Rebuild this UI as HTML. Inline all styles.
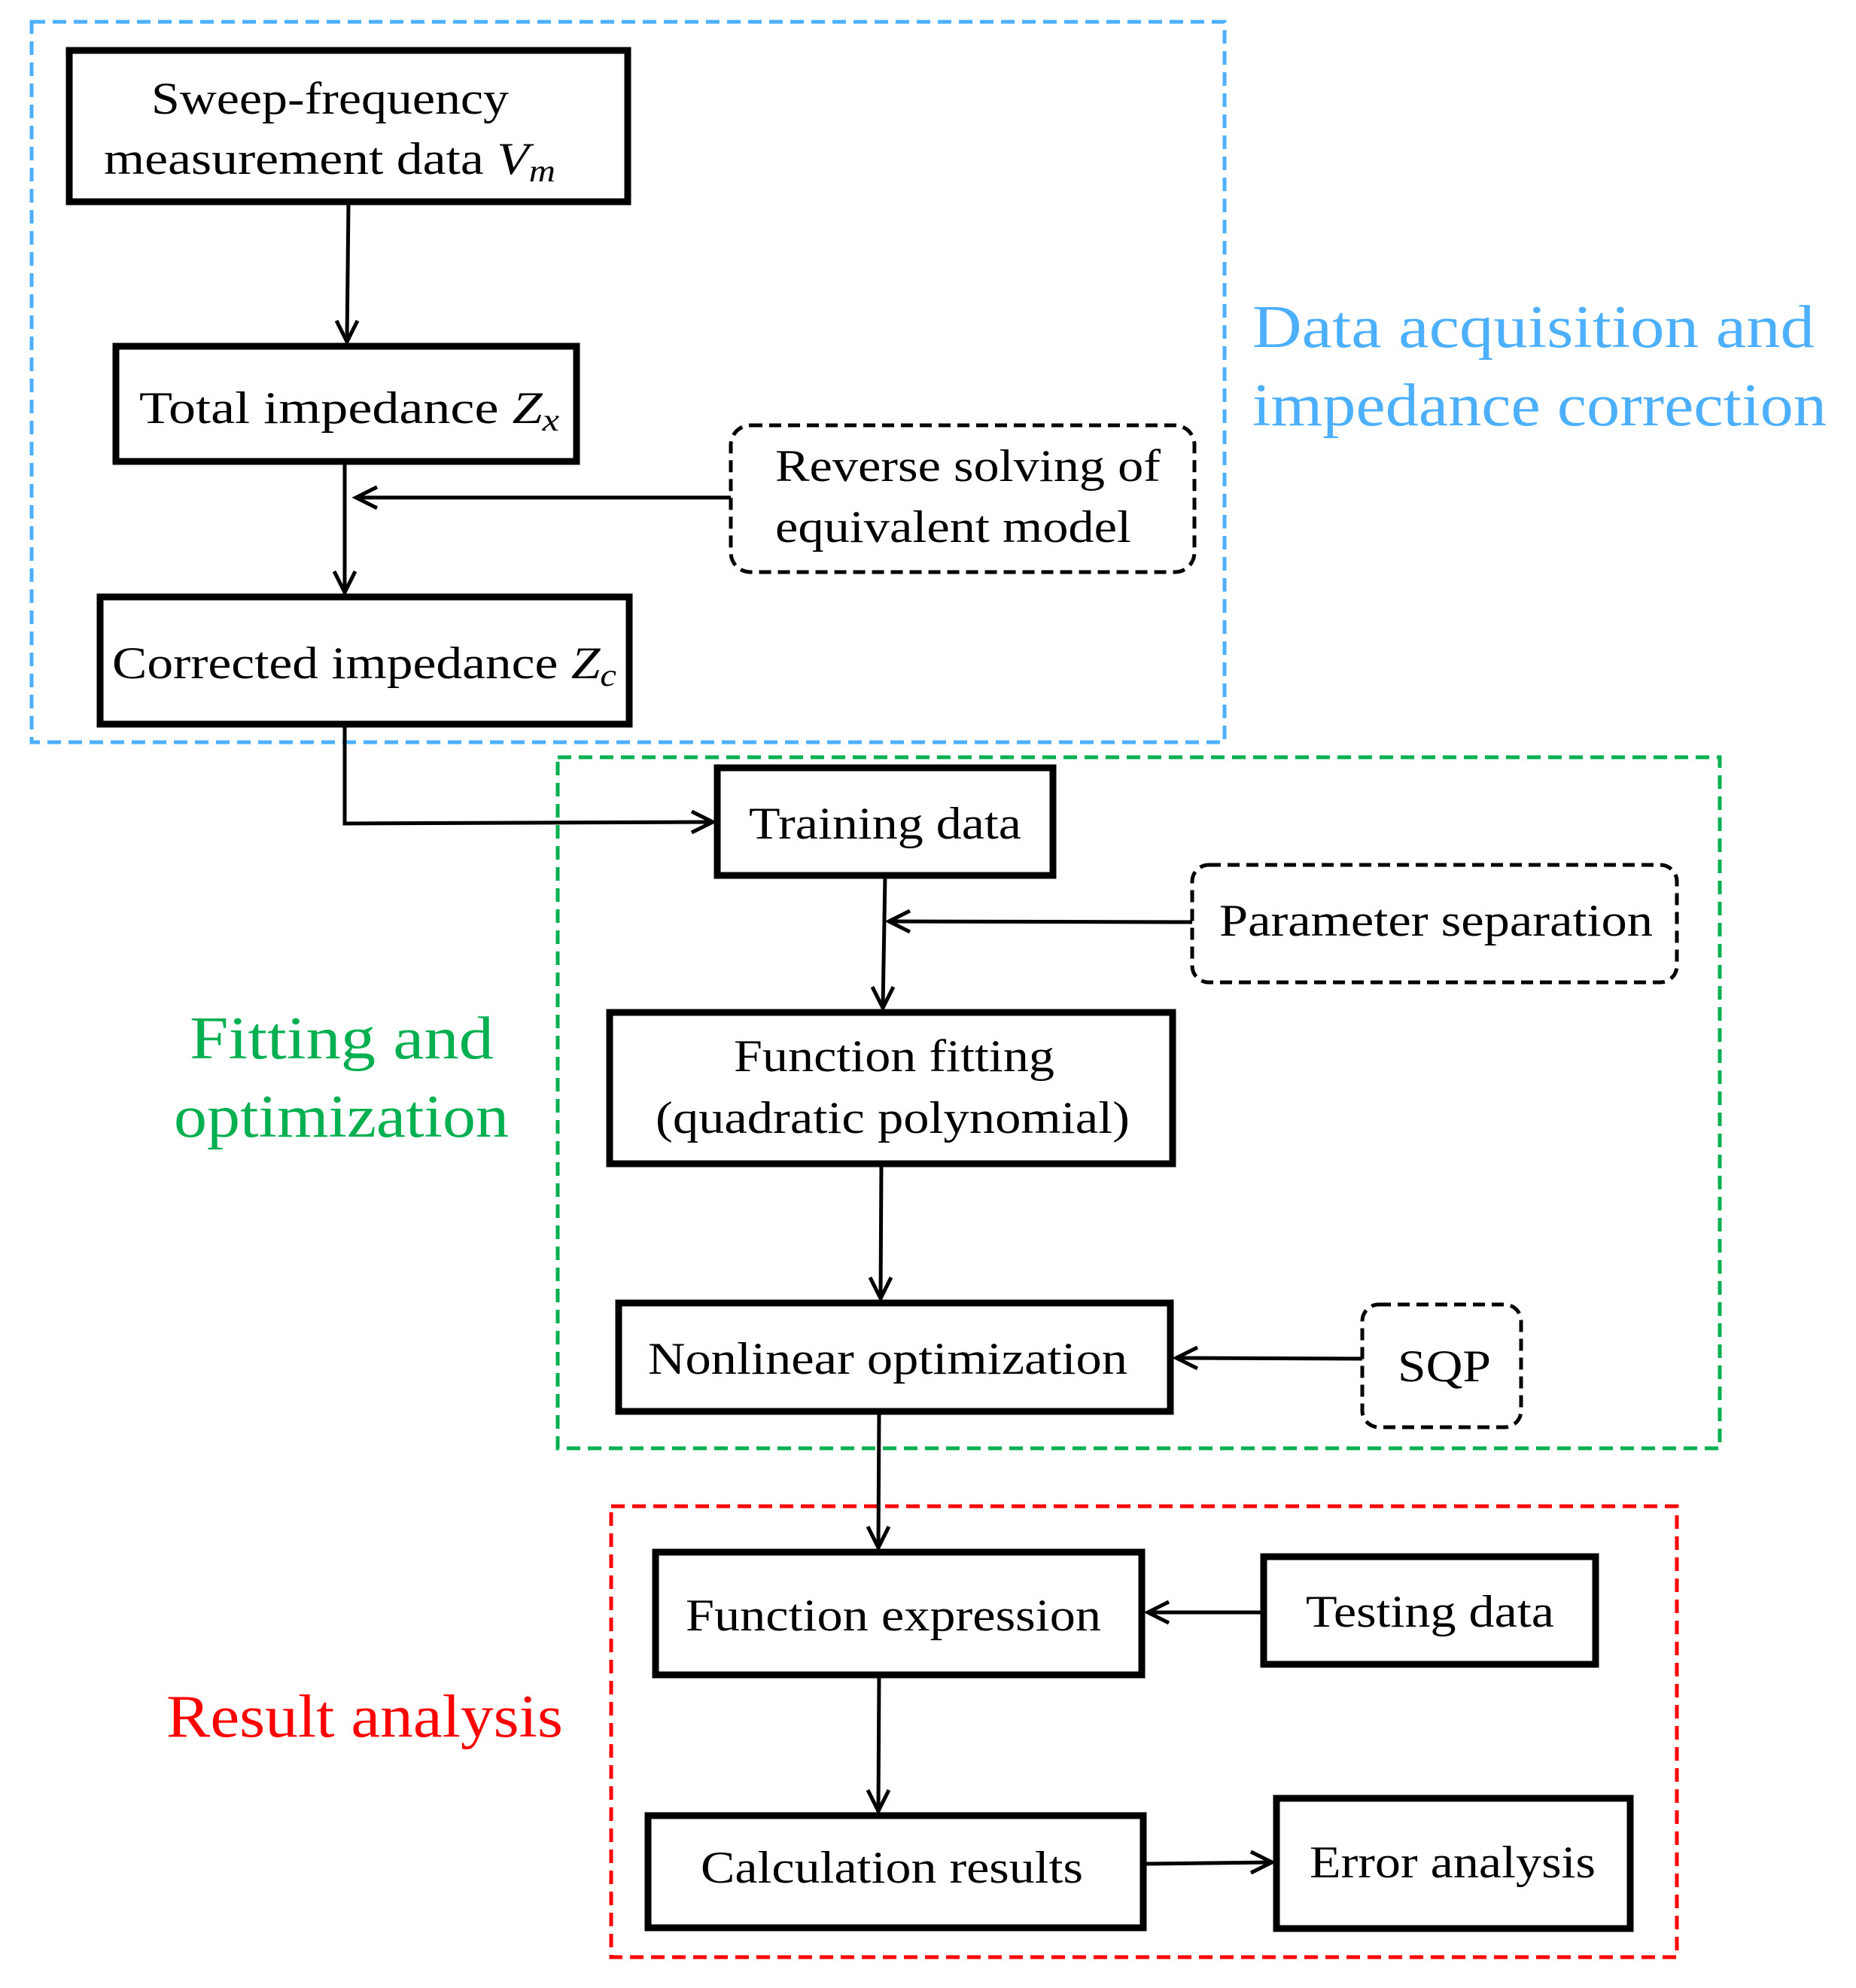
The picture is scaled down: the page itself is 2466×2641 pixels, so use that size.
<!DOCTYPE html>
<html><head><meta charset="utf-8"><style>html,body{margin:0;padding:0;background:#fff}svg{display:block}</style></head>
<body>
<svg width="2466" height="2641" viewBox="0 0 2466 2641" xmlns="http://www.w3.org/2000/svg" font-family="'Liberation Serif', serif">
<g fill="none" stroke-dasharray="18,10" stroke-width="5">
<rect x="42" y="29" width="1585" height="957" stroke="#4db0ff"/>
<rect x="741" y="1006" width="1544" height="918" stroke="#00b050"/>
<rect x="812" y="2001" width="1416" height="599" stroke="#ff0000"/>
</g>
<g fill="none" stroke="#000" stroke-width="9">
<rect x="92" y="67" width="742" height="201"/>
<rect x="154" y="460" width="612" height="153"/>
<rect x="133" y="793" width="703" height="169"/>
<rect x="953" y="1020" width="446" height="143"/>
<rect x="810" y="1345" width="748" height="201"/>
<rect x="822" y="1731" width="733" height="144"/>
<rect x="871" y="2062" width="646" height="163"/>
<rect x="1679" y="2068" width="441" height="143"/>
<rect x="861" y="2412" width="658" height="149"/>
<rect x="1696" y="2389" width="470" height="173"/>
</g>
<g fill="none" stroke="#000" stroke-width="5" stroke-dasharray="16,9">
<rect x="971" y="565" width="616" height="195" rx="26"/>
<rect x="1584" y="1149" width="644" height="156" rx="22"/>
<rect x="1810" y="1733" width="211" height="163" rx="22"/>
</g>
<g fill="none" stroke="#000" stroke-width="5" stroke-linejoin="miter">
<path d="M463 268 L461 454"/><path d="M447 426 L461 454 L475 426"/>
<path d="M458 613 L458 787"/><path d="M444 759 L458 787 L472 759"/>
<path d="M971 661 L473 661"/><path d="M501 647 L473 661 L501 675"/>
<path d="M458 962 L458 1094 L947 1092"/><path d="M919 1078 L947 1092 L919 1106"/>
<path d="M1176 1163 L1173 1339"/><path d="M1159 1311 L1173 1339 L1187 1311"/>
<path d="M1584 1225 L1181 1224"/><path d="M1209 1210 L1181 1224 L1209 1238"/>
<path d="M1171 1546 L1170 1725"/><path d="M1156 1697 L1170 1725 L1184 1697"/>
<path d="M1810 1805 L1563 1804"/><path d="M1591 1790 L1563 1804 L1591 1818"/>
<path d="M1168 1875 L1167 2056"/><path d="M1153 2028 L1167 2056 L1181 2028"/>
<path d="M1679 2142 L1525 2142"/><path d="M1553 2128 L1525 2142 L1553 2156"/>
<path d="M1168 2225 L1167 2406"/><path d="M1153 2378 L1167 2406 L1181 2378"/>
<path d="M1519 2476 L1690 2474"/><path d="M1662 2460 L1690 2474 L1662 2488"/>
</g>
<g font-size="60" fill="#000">
<text x="201" y="151" textLength="475" lengthAdjust="spacingAndGlyphs">Sweep-frequency</text>
<text x="138" y="231" textLength="600" lengthAdjust="spacingAndGlyphs">measurement data <tspan font-style="italic">V<tspan font-size="42" dy="10">m</tspan></tspan></text>
<text x="185" y="562" textLength="558" lengthAdjust="spacingAndGlyphs">Total impedance  <tspan font-style="italic">Z<tspan font-size="42" dy="10">x</tspan></tspan></text>
<text x="1030" y="639" textLength="512" lengthAdjust="spacingAndGlyphs">Reverse solving of</text>
<text x="1030" y="720" textLength="473" lengthAdjust="spacingAndGlyphs">equivalent model</text>
<text x="149" y="901" textLength="670" lengthAdjust="spacingAndGlyphs">Corrected impedance <tspan font-style="italic">Z<tspan font-size="42" dy="10">c</tspan></tspan></text>
<text x="995" y="1114" textLength="362" lengthAdjust="spacingAndGlyphs">Training data</text>
<text x="1620" y="1243" textLength="576" lengthAdjust="spacingAndGlyphs">Parameter separation</text>
<text x="975" y="1423" textLength="426" lengthAdjust="spacingAndGlyphs">Function fitting</text>
<text x="871" y="1505" textLength="630" lengthAdjust="spacingAndGlyphs">(quadratic polynomial)</text>
<text x="861" y="1825" textLength="637" lengthAdjust="spacingAndGlyphs">Nonlinear optimization</text>
<text x="1857" y="1835" textLength="124" lengthAdjust="spacingAndGlyphs">SQP</text>
<text x="911" y="2166" textLength="552" lengthAdjust="spacingAndGlyphs">Function expression</text>
<text x="1735" y="2161" textLength="330" lengthAdjust="spacingAndGlyphs">Testing data</text>
<text x="931" y="2501" textLength="508" lengthAdjust="spacingAndGlyphs">Calculation results</text>
<text x="1740" y="2494" textLength="380" lengthAdjust="spacingAndGlyphs">Error analysis</text>
</g>
<g font-size="80">
<text x="1664" y="461" fill="#4db0ff" textLength="747" lengthAdjust="spacingAndGlyphs">Data acquisition  and</text>
<text x="1664" y="565" fill="#4db0ff" textLength="763" lengthAdjust="spacingAndGlyphs">impedance correction</text>
<text x="252" y="1406" fill="#00b050" textLength="404" lengthAdjust="spacingAndGlyphs">Fitting  and</text>
<text x="231" y="1510" fill="#00b050" textLength="445" lengthAdjust="spacingAndGlyphs">optimization</text>
<text x="221" y="2307" fill="#ff0000" textLength="527" lengthAdjust="spacingAndGlyphs">Result analysis</text>
</g>
</svg>
</body></html>
